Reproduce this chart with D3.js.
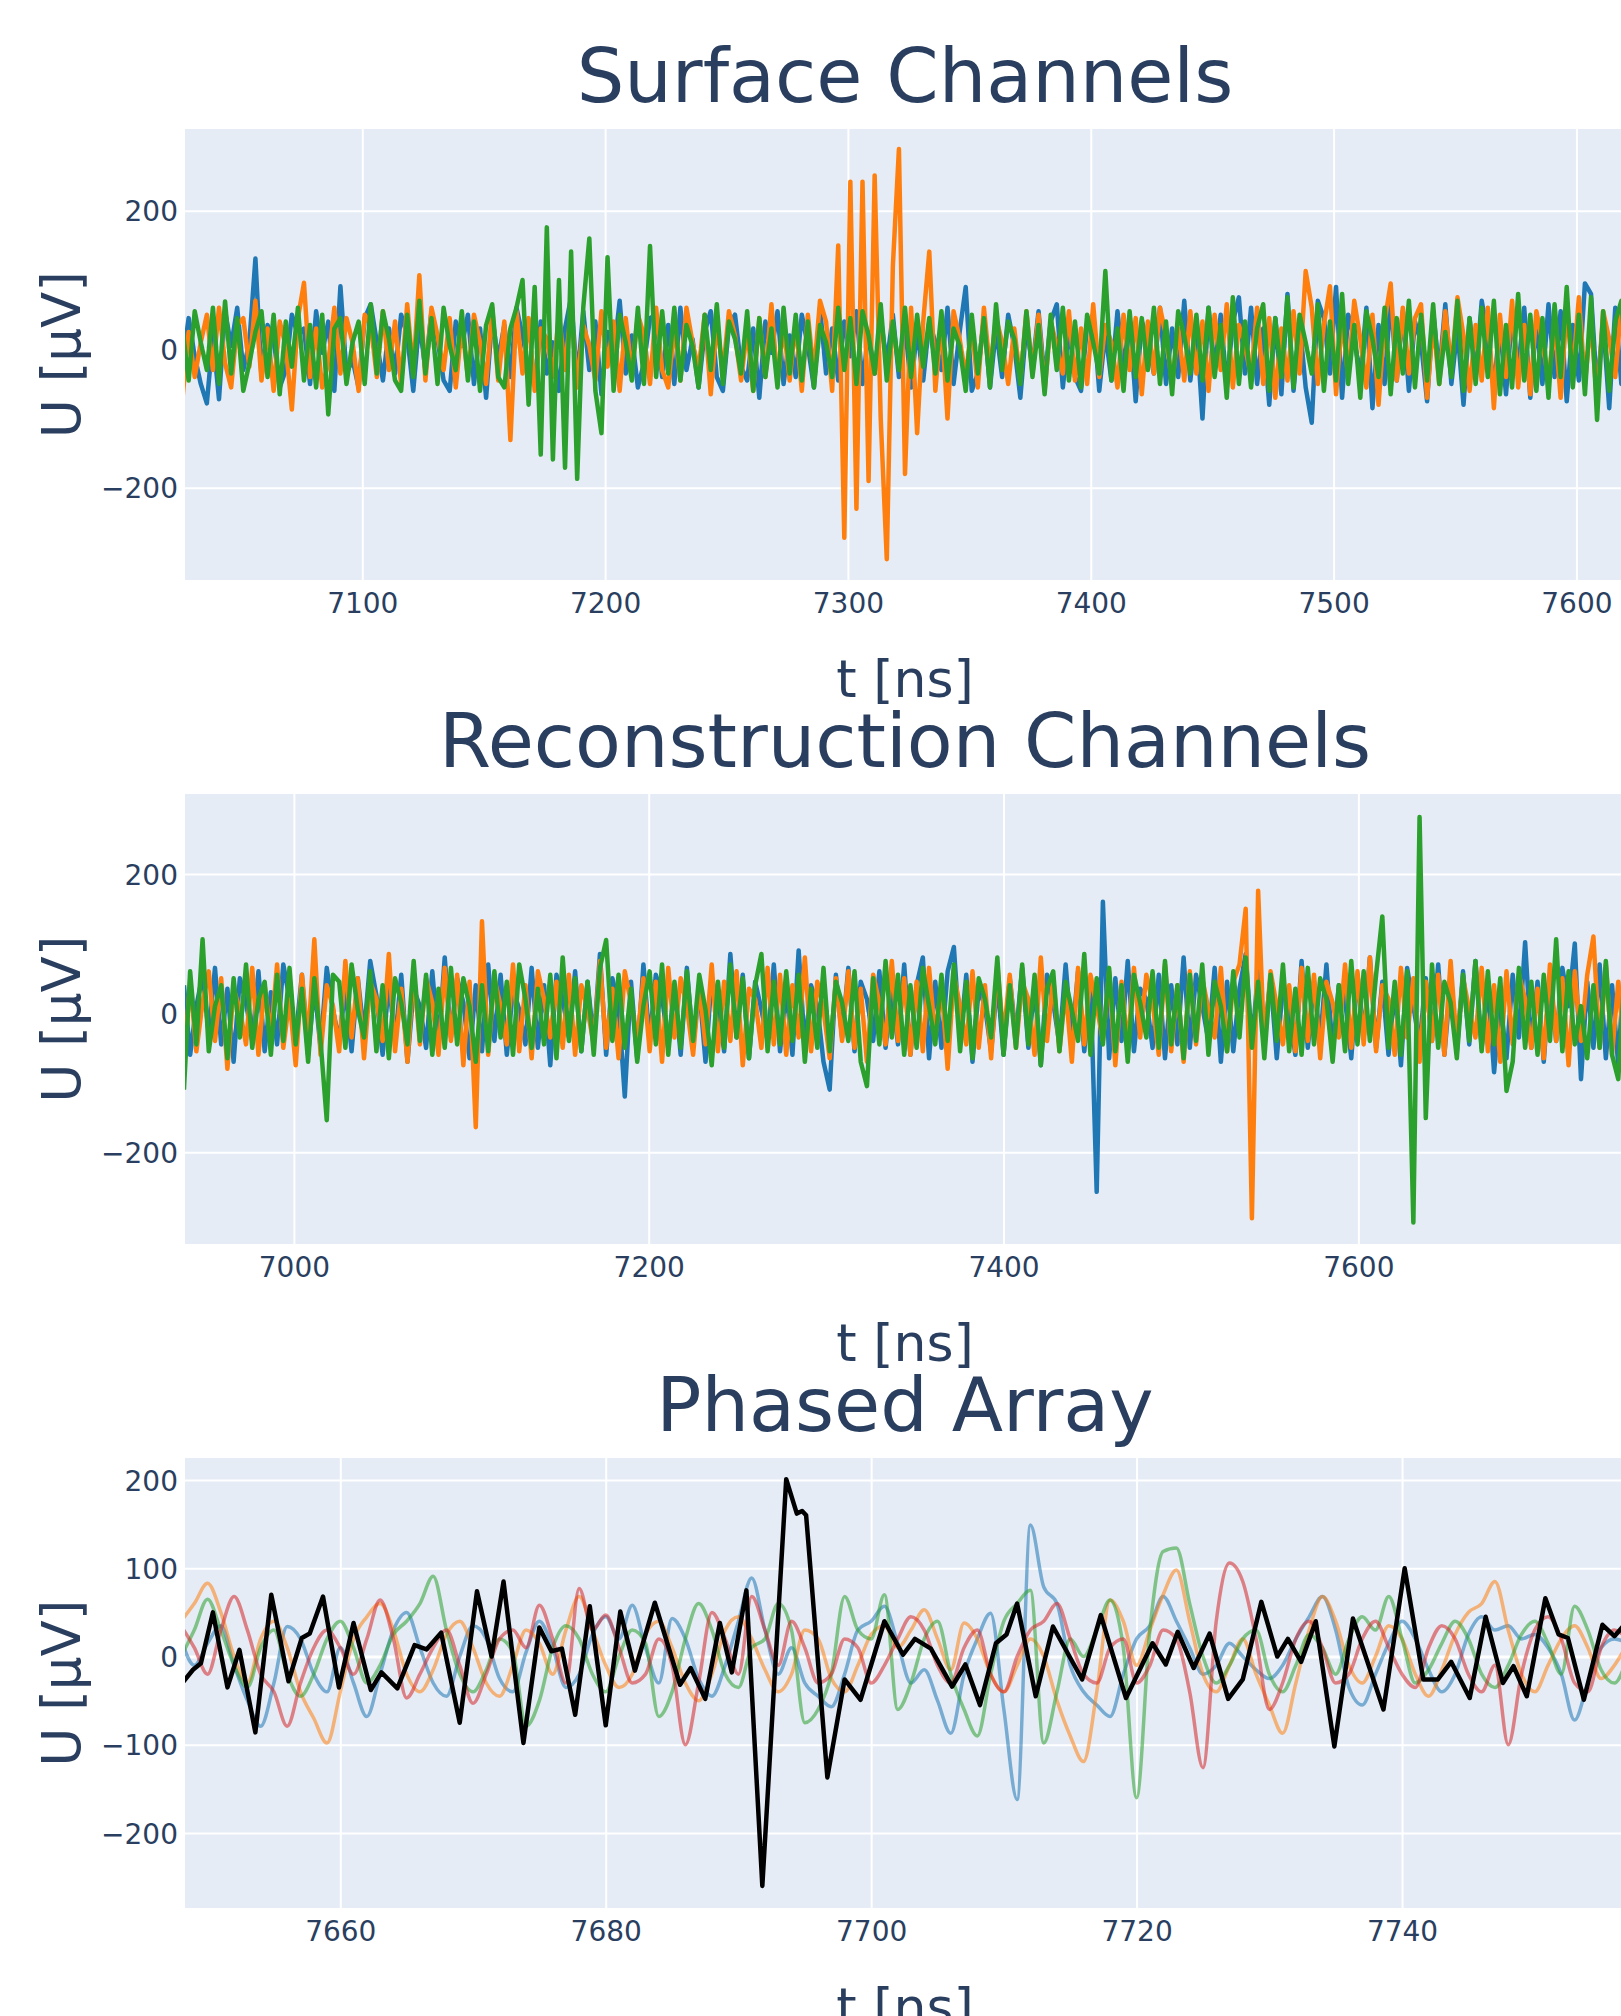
<!DOCTYPE html>
<html>
<head>
<meta charset="utf-8">
<script src="https://cdn.jsdelivr.net/npm/d3@7"></script>
<style>
  html, body { margin: 0; padding: 0; background: #fff; }
  svg { display: block; font-family: "DejaVu Sans", Verdana, sans-serif; }
</style>
</head>
<body>
<svg id="fig" width="1621" height="2016"></svg>
<script>
// ---------------- Surface channels (sampled every 2.5 ns) ----------------
const surfaceStart = 7026, surfaceStep = 2.5;
const surfaceBlue = [
  -20, 45, -10, -50, -78, 20, -72, 55, 5, 60, -30, 10, 131, -40, 35, 15, -55, -30, 50, 20,
  30, -50, 55, -5, 40, -60, 91, -35, -15, -55, 45, 65, 10, -45, 30, -35, 50, 20, -60, 40,
  -30, 55, 15, -45, -60, 40, 5, 50, -50, 30, -70, 45, -15, 35, -40, 60, 20, -30, -50, 40,
  -35, 10, -60, 30, 75, -45, 55, -30, 40, -65, 25, -10, 70, -35, 20, -55, -20, 45, 50, -40,
  35, -50, 60, -30, 15, -55, 25, 55, -40, -60, 35, 50, -25, -45, 30, -70, 40, -5, 55, -50,
  20, -40, 50, 5, -55, 60, -35, 30, -45, 40, -10, 55, -50, 25, -35, 45, -20, 50, -40, 35,
  -55, 30, -45, 40, 10, -30, 60, -50, 25, 90, -60, -35, 45, -55, 30, -40, 50, 5, -70, 35,
  -25, 55, -45, 40, 65, -55, 30, -40, -60, 35, 50, -60, 25, -45, 55, -30, 45, -75, 40, 15,
  -35, 60, -50, 30, -40, 70, -45, 35, -100, 60, -30, 50, -55, 40, 75, -35, 60, -50, 30, -80,
  45, -65, 80, -60, 40, -55, -106, 70, 45, -35, 90, -70, 50, 15, -40, 60, -85, 35, -50, 75,
  -45, 55, -60, 40, 10, -75, 55, -35, 65, -50, 30, -80, 45, -40, 70, 20, -55, 35, -65, 50,
  -30, 60, -70, 40, -50, 65, -40, 55, -75, 35, -45, 95, 80, -60, 40, -85, 60, -50, 70, -65,
  50
];
const surfaceOrange = [
  -70, 25, -40, 10, 50, -30, 60, -20, -55, 35, 45, -25, 70, -45, 30, -60, 40, 5, -87, 45,
  96, -40, 30, -55, -20, 60, -35, 45, 10, -60, 50, 35, -40, 55, -30, 40, -50, 65, -35, 107,
  -45, 60, 20, -30, 45, -55, 35, -40, 50, 10, -50, 60, -45, 40, -131, 55, -35, 45, -60, 30,
  15, -40, 50, -30, 60, -55, 35, 5, -45, 55, -25, 40, -60, 45, -35, 50, 20, -50, 60, -30,
  -55, 35, -45, 60, 10, -30, 50, -65, 40, -35, 55, 20, -45, 30, -60, 45, -40, 65, -50, 35,
  -45, 40, -60, 50, -35, 70, 40, -60, 150, -272, 242, -230, 242, -190, 251, -100, -303, 120, 289, -180,
  60, -121, 40, 141, -60, 45, -100, 55, 15, -40, 35, -55, 60, -30, 45, 10, -50, 30, -45, 55,
  -35, 50, -60, 40, 5, -35, 55, -45, 30, -50, 65, -40, 35, 10, -55, 50, -30, 45, -65, 40,
  -35, 60, 20, -50, 30, -45, 55, -35, 40, -60, 50, -30, 65, -55, 35, 5, -40, 60, -50, 45,
  -70, 30, -45, 55, -35, 113, 60, -50, 35, 91, -65, 45, -40, 70, 15, -55, 50, -80, 40, 95,
  -45, 60, -35, 45, 65, -70, 40, -50, 55, -30, 75, 20, -60, 35, -45, 60, -85, 50, -40, 70,
  -55, 35, -65, 55, 10, -45, 40, -70, 60, -35, 75, -50, 45, -80, 55, 15, -40, 65, -60, 35,
  -75
];
const surfaceGreen = [
  30, -45, 55, 10, -30, 60, -50, 69, -35, 45, -60, -20, 25, 55, -40, 50, -65, 40, -25, 60,
  -45, 35, -55, 50, -94, 30, 45, -50, 10, 40, -50, 65, -35, 55, 15, -45, -60, 50, -40, 70,
  -35, 45, -50, 60, 5, -30, 55, -45, 40, -60, 35, 65, -40, -55, 30, 60, 100, -80, 90, -152,
  176, -159, 100, -171, 141, -187, 60, 160, -60, -121, 133, -60, 50, 10, -45, 60, -50, 149, -40, 55,
  -35, 60, -45, 35, 5, -55, 50, -30, 65, -50, 40, 15, -35, 55, -60, 45, -40, 30, -55, 60,
  -35, 50, -45, 40, -55, 35, 10, -40, 60, -30, 45, -50, 55, 20, -35, 65, -45, 40, -30, 60,
  -40, 50, -25, 45, -35, 55, -45, 30, 5, -60, 50, -35, 45, -55, 65, -30, 40, 15, -50, 55,
  -40, 35, -65, 50, -30, 60, -45, 40, -55, 50, 10, -35, 113, -45, 30, -60, 55, -40, 45, -30,
  60, -50, 40, -65, 55, 20, -35, 50, -45, 60, -40, 35, -70, 75, -50, 40, -55, 30, 65, -60,
  45, -40, 75, -55, 50, 10, -35, 65, -60, 40, -45, 80, -50, 35, -70, 55, 15, -40, 60, -65,
  45, -35, 70, -55, 50, -45, 65, -50, 25, -40, 70, -60, 45, -50, 60, -40, 70, -65, 35, -55,
  80, -45, 50, -60, 45, -70, 65, -40, 90, -55, 50, -65, 75, -102, 55, -60, 40, 70, -50, 60,
  -75
];

// ---------------- Reconstruction channels (sampled every 3.5 ns) ----------------
const recoStart = 6938, recoStep = 3.5;
const recoBlue = [
  40, -60, 10, 55, -30, 65, -45, 35, -70, 50, 15, -40, 60, -55, 30, -45, 70, 20, -35, 55,
  -60, 40, -50, 65, 5, -40, 35, -55, 50, -30, 75, 25, -60, 45, -40, 55, -70, 35, 10, -50,
  60, -45, 80, -35, 50, 15, -65, 40, -55, 70, -40, 55, -60, 35, 5, -45, 65, -50, 40, -75,
  55, 20, -35, 60, -55, 45, -40, 85, -60, 50, 10, -120, 45, -65, 70, -40, 55, 25, -50, 40,
  -60, 65, -45, 35, -70, 50, 15, -55, 85, -35, 55, -65, 45, 5, -40, 70, -55, 35, -60, 90,
  -50, 40, 10, -70, -110, 55, -35, 65, -55, 45, 20, -40, 60, -50, 35, -45, 70, -60, 40, 80,
  -65, 45, -50, 60, 95, -40, 55, -70, 35, 10, -55, 45, -60, 50, -35, 65, -50, 40, -75, 55,
  15, -45, 70, -40, 60, -55, 45, -257, 160, -65, 50, -40, 75, -55, 35, 20, -50, 55, -65, 40,
  -45, 80, -50, 55, 10, -40, 65, -70, 45, -55, 35, 85, -45, 60, -35, 50, -65, 40, 5, -60,
  75, -50, 45, -40, 70, -55, 40, 20, -65, 55, -35, 80, -50, 45, -60, 35, -75, 65, 10, -45,
  50, -40, 70, -60, 45, -55, 60, -45, 75, -50, 40, -85, 15, -65, 55, -35, 102, -50, 45, -70,
  55, -40, 65, 10, 100, -95, 45, -50, 70, -65, 40, -75, 80
];
const recoOrange = [
  -70, 45, -55, 15, 60, -40, 50, -80, 35, 5, -45, 65, -60, 40, -35, 70, -50, 20, -75, 55,
  -40, 106, -60, 40, 10, -55, 75, -35, 50, -65, 45, 20, -40, 85, -55, 35, -70, 60, -45, 50,
  15, -60, 65, -40, 55, -75, 45, -164, 132, -60, 50, 10, -45, 70, -55, 40, -65, 60, 20, -35,
  45, -50, 55, -60, 40, 5, -45, 75, -50, 35, -65, 60, 15, -40, 50, -55, 45, -70, 65, -35,
  50, 10, -60, 40, -45, 70, -55, 45, -40, 60, -75, 35, 20, -50, 65, -45, 55, -60, 40, -35,
  80, -55, 45, 5, -65, 50, -40, 60, -50, 35, -70, 55, 15, -45, 75, -40, 50, -60, 45, -55,
  65, -35, 40, -80, 55, 10, -45, 60, -50, 40, -65, 70, -35, 55, -50, 45, 20, -60, 80, -40,
  50, -55, 35, -70, 65, -45, 55, 10, -40, 60, -75, 45, -50, 65, -35, 55, 15, -60, 70, -55,
  40, -70, 60, -45, 50, 5, -35, 65, -55, 45, 70, 150, -295, 176, -50, 60, 10, -45, 40, -55,
  65, -40, 55, -65, 45, 15, -35, 70, -50, 60, -45, 80, -55, 40, 20, -60, 65, -35, 50, -70,
  45, -40, 55, -60, 75, -45, 50, 5, -35, 65, -55, 40, -70, 60, -45, 55, 20, -50, 35, -65,
  70, -40, 50, -75, 60, -40, 55, 110, -50, 70, -60, 45, -55
];
const recoGreen = [
  -110, 60, -45, 106, -55, 10, 40, -65, 50, -35, 70, -50, 20, 45, -60, 55, -40, 65, -45, 35,
  -70, 50, -40, -154, 55, 45, -50, 70, 5, -35, 60, -55, 40, -65, 50, 15, -45, 75, -40, 55,
  -60, 35, -50, 65, -45, 50, 10, -70, 40, -55, 60, -35, 45, -60, 70, 20, -50, 35, -45, 55,
  -65, 80, -40, 50, -55, 45, -60, 65, 105, -40, 55, -50, 35, -70, 10, 60, -45, 70, -60, 45,
  -50, 60, -40, 55, 5, -75, 45, -50, 70, -35, 50, -65, 40, 85, -55, 45, -45, 60, -40, 55,
  -70, 35, -50, 65, -55, 45, 15, -40, 60, -70, -105, 50, -45, 75, -35, 55, -60, 40, -50, 65,
  10, -45, 55, -40, 70, -55, 45, -65, 50, 20, -35, 80, -60, 40, -50, 70, -45, 55, -75, 35,
  60, -55, 45, 5, -40, 85, -60, 50, -45, 65, -55, 40, -70, 55, 15, -35, 60, -50, 75, -45,
  40, -65, 55, -40, 70, -60, 45, 10, -55, 60, -35, 80, -50, 45, -65, 55, -40, 70, -55, 35,
  -60, 65, -45, 50, 20, -70, 40, -55, 75, -45, 60, -40, 55, 139, -50, 45, -60, 60, -301, 282,
  -151, 70, -50, 45, 15, -65, 55, -40, 75, -55, 60, -45, 50, -112, -70, 65, -50, 45, -60, 55,
  -40, 106, -55, 60, -45, 10, -65, 40, -50, 75, -60, -95, 55
];

// ---------------- Phased array: single channels (1 ns) and the beam ----------------
const phasedStart = 7648, phasedStep = 1;
const phasedBlue = [
  20, -10, 15, 35, -10, -50, -79, -30, 34, 20,
  -20, -40, 10, -30, -68, -20, 30, 50, 10, -30,
  -45, 0, 35, 20, -25, -40, 5, 40, 10, -35,
  -20, 25, 45, 20, 58, 10, -30, 43, 20, -25,
  -45, -10, 40, 89, 30, -20, 10, -30, -45, -57,
  -20, 30, 40, 57, 15, -30, -15, -50, -87, -20,
  20, 49, -60, -162, 149, 79, 60, -10, -40, -55,
  -68, -20, 20, 35, 68, 40, 10, -20, -10, 15,
  0, -15, -25, -10, 20, 45, 68, 30, -35, -55,
  -20, 15, 40, 20, -15, -40, -20, 25, 45, 30,
  35, 20, 25, 10, -20, -72, -30, 10, 20, 15
];
const phasedOrange = [
  40, 60, 83, 50, 0, -30, 20, 40, 10, -40,
  -70, -98, -40, 20, 45, 60, 30, -20, -40, -15,
  25, 40, 10, -30, -45, -10, 30, 15, -20, 30,
  68, 30, -10, -35, -20, 25, 40, 10, -30, -50,
  -20, 30, 45, 20, -15, -40, -20, 30, 20, -25,
  -40, -10, 25, 35, 10, 30, 53, 20, -15, 38,
  20, -20, -40, -10, 20, 0, -50, -90, -119, -40,
  64, 40, -10, 30, 70, 98, 40, -20, -40, -10,
  20, -20, -55, -87, -30, 30, 68, 40, -10, -30,
  0, 35, 20, -20, -45, -15, 25, 50, 60, 85,
  30, -20, -40, -10, 20, 35, 10, -25, -10, 15
];
const phasedGreen = [
  0, 30, 65, 30, -10, -35, 10, 30, -20, -45,
  -20, 20, 40, 10, -30, -10, 25, 40, 60, 91,
  30, -20, -40, -15, 20, 5, -79, -50, 10, 35,
  20, -20, -40, 0, 30, 15, -68, -40, 20, 60,
  30, -20, -35, 10, 20, 60, 30, -75, -60, -20,
  68, 30, 20, 70, -60, -30, 20, 40, -20, -60,
  -90, -20, 40, 60, 75, -98, -40, 20, 0, 30,
  64, 10, -160, 30, 119, 123, 60, 0, -30, -10,
  20, 30, -20, -40, -10, 25, 10, -20, 20, 45,
  30, 68, 20, -30, -15, 15, 40, 20, -20, -35,
  -10, 25, 40, 15, -20, 57, 30, -15, -30, 0
];
const phasedRed = [
  35, 10, -20, 30, 68, 30, -20, -40, -79, -30,
  10, 30, 10, -20, 20, 64, 20, -47, -20, 10,
  30, -10, -53, -20, 20, 30, 10, 58, 20, -30,
  77, 30, 47, 10, -30, -20, 20, -10, -100, -30,
  50, 20, -20, 68, 30, -10, 40, 10, -30, -20,
  20, 10, -30, -10, 20, 45, 30, -10, -30, 10,
  30, -20, -40, 0, 30, 40, 60, 20, -20, -30,
  10, 20, -30, -10, 30, 20, -40, -126, 40, 106,
  85, 20, -60, -30, 20, 40, 10, -30, -20, 20,
  40, 10, -20, -35, 10, 35, 20, -20, -40, -10,
  -100, -20, 30, 45, 20, -30, -40, 10, 30, 20
];
// Beam trace, given at its turning points
const beamTime = [
  7648.1, 7648.9, 7649.5, 7650.4, 7651.5, 7652.4, 7653.6, 7654.8, 7656.1, 7657.1,
  7657.7, 7658.7, 7659.9, 7661.0, 7662.3, 7663.1, 7664.3, 7665.6, 7666.5, 7667.6,
  7669.0, 7670.3, 7671.4, 7672.3, 7673.8, 7675.0, 7675.9, 7676.7, 7677.7, 7678.8,
  7680.0, 7681.1, 7682.2, 7683.7, 7685.6, 7686.4, 7687.5, 7688.6, 7689.5, 7690.6,
  7691.8, 7693.6, 7694.4, 7694.8, 7695.1, 7696.7, 7698.0, 7699.2, 7701.0, 7702.4,
  7703.3, 7704.5, 7706.1, 7707.1, 7708.2, 7709.4, 7710.2, 7711.0, 7712.4, 7713.7,
  7715.9, 7717.3, 7719.2, 7721.2, 7722.2, 7723.1, 7724.3, 7725.5, 7726.9, 7728.0,
  7729.4, 7730.6, 7731.4, 7732.4, 7733.5, 7734.9, 7736.3, 7738.6, 7740.2, 7741.6,
  7742.7, 7743.7, 7745.1, 7746.3, 7747.6, 7748.4, 7749.4, 7750.8, 7751.8, 7752.5,
  7753.7, 7755.1, 7756.0, 7757.0
];
const beamValue = [
  -30, -15, -7.5, 50, -35, 7.5, -86, 70, -28, 21,
  26, 68, -35, 38, -38, -18, -36, 13, 8, 27,
  -75, 74, 0, 85, -98, 33, 6, 9, -66, 57,
  -78, 51, -16, 61, -32, -13, -48, 38, -18, 75,
  -260, 201, 162, 165, 160, -137, -26, -49, 40, 2,
  20, 9, -34, -9, -55, 15, 25, 60, -45, 34,
  -26, 47, -47, 15, -9, 28, -13, 26, -48, -26,
  62, 0, 20, -6, 40, -102, 43, -60, 100, -26,
  -26, -6, -47, 45, -30, -11, -45, 66, 25, 21,
  -49, 36, 23, 40
];

// ---------------- Axis ticks and labels ----------------
const panelTitles = ["Surface Channels", "Reconstruction Channels", "Phased Array"];
const surfaceXTicks = [7100, 7200, 7300, 7400, 7500, 7600];
const recoXTicks = [7000, 7200, 7400, 7600];
const phasedXTicks = [7660, 7680, 7700, 7720, 7740];
const surfaceYTicks = [-200, 0, 200];
const recoYTicks = [-200, 0, 200];
const phasedYTicks = [-200, -100, 0, 100, 200];
const xAxisTitle = "t [ns]";
const yAxisTitle = "U [µV]";

const channelColors = ["#1f77b4", "#ff7f0e", "#2ca02c", "#d62728"];
const textColor = "#2a3f5f";

// ---------------- Layout ----------------
const LEFT = 185, RIGHT = 1625, TITLE_X = 905;
const svg = d3.select("#fig");
svg.append("rect").attr("width", 1621).attr("height", 2016).attr("fill", "#fff");

const panels = [
  {
    title: panelTitles[0], top: 129, bottom: 580,
    xDomain: [7027, 7620], yDomain: [-333, 318],
    xTicks: surfaceXTicks, yTicks: surfaceYTicks,
    traces: [
      { values: surfaceBlue, start: surfaceStart, step: surfaceStep, color: channelColors[0], width: 4.5, opacity: 1 },
      { values: surfaceOrange, start: surfaceStart, step: surfaceStep, color: channelColors[1], width: 4.5, opacity: 1 },
      { values: surfaceGreen, start: surfaceStart, step: surfaceStep, color: channelColors[2], width: 4.5, opacity: 1 }
    ]
  },
  {
    title: panelTitles[1], top: 794, bottom: 1244,
    xDomain: [6938.6, 7750.3], yDomain: [-332, 315],
    xTicks: recoXTicks, yTicks: recoYTicks,
    traces: [
      { values: recoBlue, start: recoStart, step: recoStep, color: channelColors[0], width: 4.5, opacity: 1 },
      { values: recoOrange, start: recoStart, step: recoStep, color: channelColors[1], width: 4.5, opacity: 1 },
      { values: recoGreen, start: recoStart, step: recoStep, color: channelColors[2], width: 4.5, opacity: 1 }
    ]
  },
  {
    title: panelTitles[2], top: 1458, bottom: 1908,
    xDomain: [7648.3, 7756.8], yDomain: [-285, 225],
    xTicks: phasedXTicks, yTicks: phasedYTicks,
    traces: [
      { values: phasedBlue, start: phasedStart, step: phasedStep, color: channelColors[0], width: 3.5, opacity: 0.55, smooth: true },
      { values: phasedOrange, start: phasedStart, step: phasedStep, color: channelColors[1], width: 3.5, opacity: 0.55, smooth: true },
      { values: phasedGreen, start: phasedStart, step: phasedStep, color: channelColors[2], width: 3.5, opacity: 0.55, smooth: true },
      { values: phasedRed, start: phasedStart, step: phasedStep, color: channelColors[3], width: 3.5, opacity: 0.55, smooth: true },
      { values: beamValue, times: beamTime, color: "#000", width: 4.5, opacity: 1 }
    ]
  }
];

panels.forEach((p, k) => {
  const x = d3.scaleLinear().domain(p.xDomain).range([LEFT, RIGHT]);
  const y = d3.scaleLinear().domain(p.yDomain).range([p.bottom, p.top]);
  const g = svg.append("g");
  const h = p.bottom - p.top;

  g.append("rect")
    .attr("x", LEFT).attr("y", p.top)
    .attr("width", RIGHT - LEFT).attr("height", h)
    .attr("fill", "#e5ecf6");

  // grid lines
  g.append("g")
    .attr("transform", `translate(0,${p.bottom})`)
    .call(d3.axisBottom(x).tickValues(p.xTicks).tickSize(-h).tickFormat(""))
    .call(a => a.select(".domain").remove())
    .selectAll("line").attr("stroke", "#fff").attr("stroke-width", 2);
  g.append("g")
    .attr("transform", `translate(${LEFT},0)`)
    .call(d3.axisLeft(y).tickValues(p.yTicks).tickSize(-(RIGHT - LEFT)).tickFormat(""))
    .call(a => a.select(".domain").remove())
    .selectAll("line")
    .attr("stroke", "#fff")
    .attr("stroke-width", d => d === 0 ? 3 : 2);

  // traces
  const clipId = "clip" + k;
  svg.append("clipPath").attr("id", clipId)
    .append("rect").attr("x", LEFT).attr("y", p.top)
    .attr("width", RIGHT - LEFT).attr("height", h);
  const plot = g.append("g").attr("clip-path", `url(#${clipId})`);
  p.traces.forEach(tr => {
    const tx = tr.times ? (d, i) => x(tr.times[i]) : (d, i) => x(tr.start + i * tr.step);
    const line = d3.line().x(tx).y(d => y(d))
      .curve(tr.smooth ? d3.curveMonotoneX : d3.curveLinear);
    plot.append("path")
      .datum(tr.values)
      .attr("d", line)
      .attr("fill", "none")
      .attr("stroke", tr.color)
      .attr("stroke-width", tr.width)
      .attr("stroke-opacity", tr.opacity)
      .attr("stroke-linejoin", "round");
  });

  // tick labels
  const xa = g.append("g")
    .attr("transform", `translate(0,${p.bottom})`)
    .call(d3.axisBottom(x).tickValues(p.xTicks).tickSize(0).tickFormat(d3.format("d")));
  xa.select(".domain").remove();
  xa.selectAll("text")
    .attr("y", 33).attr("dy", null)
    .attr("font-size", 28).attr("font-family", "DejaVu Sans, Verdana, sans-serif")
    .attr("fill", textColor);

  const ya = g.append("g")
    .attr("transform", `translate(${LEFT},0)`)
    .call(d3.axisLeft(y).tickValues(p.yTicks).tickSize(0).tickFormat(d3.format("d")));
  ya.select(".domain").remove();
  ya.selectAll("text")
    .attr("x", -7).attr("dy", "0.36em")
    .attr("font-size", 28).attr("font-family", "DejaVu Sans, Verdana, sans-serif")
    .attr("fill", textColor);

  // titles
  g.append("text")
    .attr("x", TITLE_X).attr("y", p.top - 27)
    .attr("text-anchor", "middle")
    .attr("font-size", 75).attr("fill", textColor)
    .text(p.title);
  g.append("text")
    .attr("x", TITLE_X).attr("y", p.bottom + 117)
    .attr("text-anchor", "middle")
    .attr("font-size", 52).attr("fill", textColor)
    .text(xAxisTitle);
  g.append("text")
    .attr("transform", `translate(80,${(p.top + p.bottom) / 2}) rotate(-90)`)
    .attr("text-anchor", "middle")
    .attr("font-size", 53).attr("fill", textColor)
    .text(yAxisTitle);
});
</script>
</body>
</html>
